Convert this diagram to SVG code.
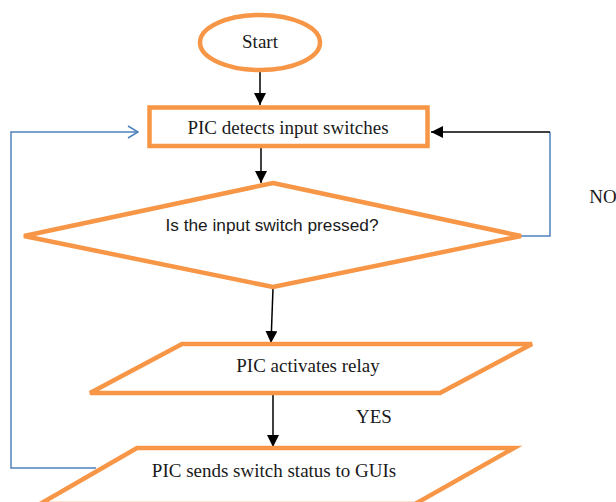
<svg xmlns="http://www.w3.org/2000/svg" width="616" height="502" viewBox="0 0 616 502">
<style>
.shape{fill:#fff;stroke:#F79646;stroke-width:4.5;stroke-linejoin:miter}
.t{font-family:"Liberation Serif","Times New Roman",serif;font-size:19px;fill:#1a1a1a;text-anchor:middle}
.s{font-family:"Liberation Sans",Arial,sans-serif;font-size:16.5px;fill:#1a1a1a;text-anchor:middle}
.blk{fill:none;stroke:#000;stroke-width:1.5}
.blu{fill:none;stroke:#4F81BD;stroke-width:1.5}
</style>
<defs>
<marker id="ah" markerWidth="12" markerHeight="12" viewBox="0 0 12 12" refX="12" refY="6" orient="auto" markerUnits="userSpaceOnUse">
<path d="M0,0 L12,6 L0,12 Z" fill="#000"/>
</marker>
<marker id="ab" markerWidth="12" markerHeight="14" viewBox="0 0 12 14" refX="11" refY="7" orient="auto" markerUnits="userSpaceOnUse">
<path d="M1,1 L11,7 L1,13" fill="none" stroke="#4F81BD" stroke-width="1.5"/>
</marker>
</defs>
<rect width="616" height="502" fill="#fff"/>
<g id="connectors">
<line class="blk" x1="260" y1="72" x2="260" y2="105" marker-end="url(#ah)"/>
<line class="blk" x1="261" y1="148" x2="261" y2="183" marker-end="url(#ah)"/>
<line class="blk" x1="273" y1="288" x2="271" y2="343" marker-end="url(#ah)"/>
<line class="blk" x1="273" y1="395" x2="273" y2="447" marker-end="url(#ah)"/>
<polyline class="blu" points="519,236 550,236 550,132"/>
<line class="blk" x1="550" y1="132" x2="431" y2="132" marker-end="url(#ah)"/>
<polyline class="blu" points="96,468 11,468 11,132 138,132" marker-end="url(#ab)"/>
<text class="t" x="603" y="203">NO</text>
<text class="t" x="374" y="423">YES</text>
</g>
<g id="start">
<ellipse class="shape" cx="260" cy="42.5" rx="60" ry="27.5"/>
<text class="t" x="260" y="48">Start</text>
</g>
<g id="detect">
<rect class="shape" x="149.5" y="107.5" width="278" height="38.5"/>
<text class="t" x="288" y="134">PIC detects input switches</text>
</g>
<g id="decision">
<polygon class="shape" points="273,183 521,236 273,287 24,236"/>
<text class="s" x="272" y="231" textLength="213" lengthAdjust="spacingAndGlyphs">Is the input switch pressed?</text>
</g>
<g id="relay">
<polygon class="shape" points="182,344 532,344 440,393 90,393"/>
<text class="t" x="308" y="372">PIC activates relay</text>
</g>
<g id="send">
<polygon class="shape" points="137,448 514,448 415,504 40,504"/>
<text class="t" x="274" y="477">PIC sends switch status to GUIs</text>
</g>
</svg>
